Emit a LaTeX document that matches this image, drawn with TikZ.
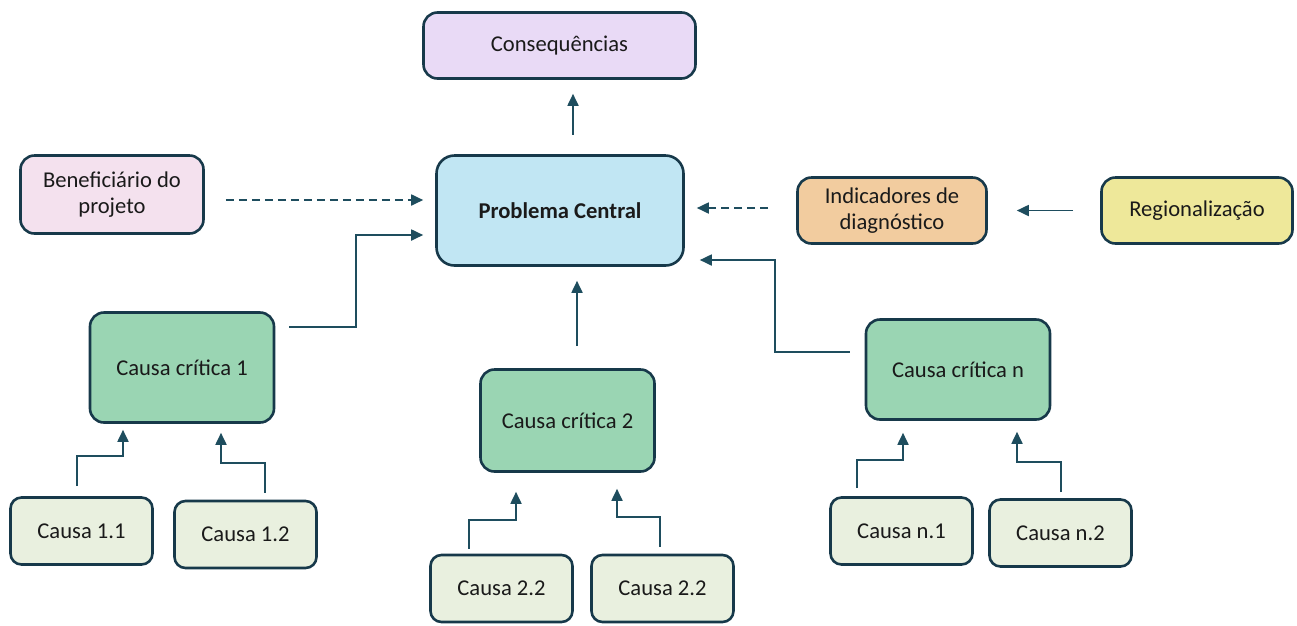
\documentclass[tikz,border=0pt]{standalone}
\usepackage{fontspec}
\setmainfont{Carlito}
\usetikzlibrary{arrows.meta,calc}
\definecolor{edge}{HTML}{17394A}
\definecolor{lnk}{HTML}{1E4D5E}
\definecolor{cons}{HTML}{E9DAF6}
\definecolor{benef}{HTML}{F4E1EE}
\definecolor{prob}{HTML}{C1E6F3}
\definecolor{indic}{HTML}{F2CC9F}
\definecolor{regio}{HTML}{EEE89A}
\definecolor{crit}{HTML}{9AD5B3}
\definecolor{sub}{HTML}{E9F0DF}
\definecolor{txt}{HTML}{1A1A1A}
\begin{document}
\begin{tikzpicture}[x=1pt,y=-1pt,
  font=\fontsize{22.6}{26}\selectfont,
  box/.style={draw=edge, line width=2.6pt, rounded corners=14pt, align=center, inner sep=0pt, text=txt},
  critbox/.style={box, fill=crit, minimum width=184pt},
  subbox/.style={box, fill=sub, minimum width=142pt, minimum height=67pt, rounded corners=11pt},
  arr/.style={draw=lnk, line width=1.8pt, -{Triangle[length=12pt,width=11pt]}},
  dsh/.style={arr, dash pattern=on 8pt off 5pt}]
\useasboundingbox (0,0) rectangle (1297,625);

\node[box, fill=cons, minimum width=272pt, minimum height=66pt] (cons) at (559.5,45.5) {Consequências};
\node[box, fill=benef, minimum width=183pt, minimum height=78pt] (ben) at (112,194.5) {Beneficiário do\\projeto};
\node[box, fill=prob, minimum width=247pt, minimum height=110pt, rounded corners=18pt, font=\fontsize{22.6}{26}\selectfont\bfseries] (pc) at (560,210.5) {Problema Central};
\node[box, fill=indic, minimum width=189pt, minimum height=66pt] (ind) at (892,210.5) {Indicadores de\\diagnóstico};
\node[box, fill=regio, minimum width=191pt, minimum height=66pt] (reg) at (1197,210.5) {Regionalização};

\node[critbox, minimum height=110pt] (c1) at (182,367.5) {Causa crítica 1};
\node[critbox, minimum width=174pt, minimum height=102pt] (c2) at (567.5,420.5) {Causa crítica 2};
\node[critbox, minimum height=100pt] (cn) at (958,369.5) {Causa crítica n};

\node[subbox] (s11) at (81.5,531) {Causa 1.1};
\node[subbox] (s12) at (245.5,534.5) {Causa 1.2};
\node[subbox] (s21) at (501.5,588.5) {Causa 2.2};
\node[subbox] (s22) at (662.5,588.5) {Causa 2.2};
\node[subbox] (sn1) at (901.5,531) {Causa n.1};
\node[subbox] (sn2) at (1060.5,533) {Causa n.2};

% top
\draw[arr] ($(cons.south)+(13.5,55)$) -- ($(cons.south)+(13.5,14)$);
% dashed inputs
\draw[dsh] ($(ben.east)+(21,5.5)$) -- ($(pc.west)+(-12,-10.5)$);
\draw[dsh] ($(ind.west)+(-28,-2.5)$) -- ($(pc.east)+(12,-2.5)$);
\draw[arr] ($(reg.west)+(-27,0)$) -- ($(ind.east)+(29,0)$);
% critical causes to central problem
\draw[arr] ($(c1.east)+(14,-40.5)$) -- ++(67,0) |- ($(pc.west)+(-12,24.5)$);
\draw[arr] ($(c2.north)+(9.5,-22)$) -- ($(pc.south)+(17,14)$);
\draw[arr] ($(cn.west)+(-15,-17.5)$) -- ++(-75,0) |- ($(pc.east)+(15,49.5)$);
% sub causes
\draw[arr] ($(s11.north)+(-4.5,-10)$) -- ++(0,-30) -| ($(c1.south)+(-59,6)$);
\draw[arr] ($(s12.north)+(19.5,-7)$) -- ++(0,-30) -| ($(c1.south)+(39,9)$);
\draw[arr] ($(s21.north)+(-32.5,-5)$) -- ++(0,-29) -| ($(c2.south)+(-51.5,19)$);
\draw[arr] ($(s22.north)+(-2.5,-7)$) -- ++(0,-30) -| ($(c2.south)+(49.5,16)$);
\draw[arr] ($(sn1.north)+(-44.5,-8)$) -- ++(0,-28) -| ($(cn.south)+(-55,12)$);
\draw[arr] ($(sn2.north)+(0.5,-6)$) -- ++(0,-30) -| ($(cn.south)+(59,11)$);
\end{tikzpicture}
\end{document}
